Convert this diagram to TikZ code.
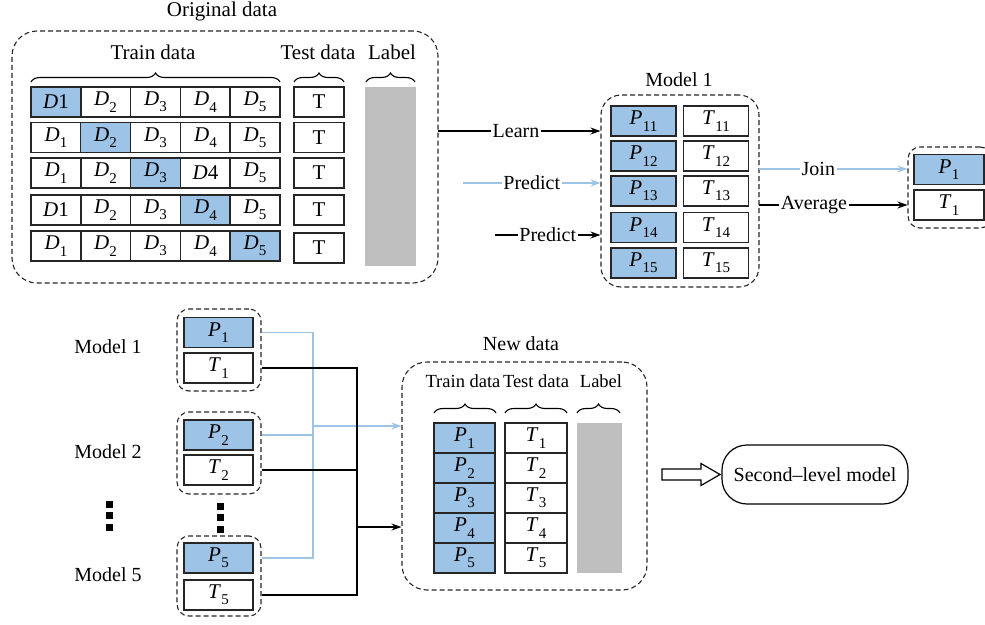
\documentclass[tikz,border=0pt]{standalone}
\usepackage{fontspec}
\setmainfont{Liberation Serif}
\usetikzlibrary{decorations.pathreplacing,arrows.meta}
\definecolor{cblue}{HTML}{9DC3E6}
\definecolor{cgray}{HTML}{BFBFBF}
\newcommand\isub[2]{\textit{#1}\kern0.3pt\raisebox{-0.3em}{\fontsize{15}{15}\selectfont #2}}
\begin{document}
\begin{tikzpicture}[x=1pt,y=-1pt,
  txt/.style={font=\fontsize{20}{24}\selectfont},
  smalltxt/.style={font=\fontsize{18.5}{22}\selectfont},
  bigtxt/.style={font=\fontsize{21}{25}\selectfont},
  cell/.style={draw=black!85, line width=1.3pt, minimum width=#1, minimum height=30pt, inner sep=0pt, font=\fontsize{21}{24}\selectfont},
  cell/.default=50pt,
  hi/.style={fill=cblue},
  dbox/.style={draw=black!85, line width=1.1pt, dash pattern=on 5pt off 3pt, rounded corners=#1, inner sep=0pt},
  dbox/.default=22pt,
  brace/.style={decorate, decoration={brace, amplitude=9pt}, line width=1.1pt},
  lbl/.style={fill=white, inner sep=1.5pt, font=\fontsize{20}{24}\selectfont},
  arrk/.style={draw=black, line width=1.2pt, -{Stealth[length=10pt,width=7pt]}},
  arrb/.style={draw=cblue, line width=1.2pt, -{Stealth[length=10pt,width=7pt]}},
  linek/.style={draw=black, line width=1.2pt},
  lineb/.style={draw=cblue, line width=1.2pt},
]
\useasboundingbox (0,0) rectangle (985,624);
\begin{scope}
\clip (0,0) rectangle (985,624);

% ---------- Original data ----------
\node[dbox=25pt, minimum width=426pt, minimum height=252pt] (orig) at (225,157) {};
\node[bigtxt] (origlbl) at (222,11) {Original data};
\node[bigtxt] (trh) at (153,52) {Train data};
\node[bigtxt] (teh) at (318,52) {Test data};
\node[bigtxt] (lah) at (392,52) {Label};
\draw[brace] (31,82) -- (280,82);
\draw[brace] (294,82) -- (344,82);
\draw[brace] (366,82) -- (415,82);

% row 1
\node[cell,hi] (d11) at (56,102) {\textit{D}1};
\node[cell] (d12) at (105.5,102) {\isub{D}{2}};
\node[cell] (d13) at (155.5,102) {\isub{D}{3}};
\node[cell] (d14) at (205.5,102) {\isub{D}{4}};
\node[cell] (d15) at (255,102) {\isub{D}{5}};
% row 2
\node[cell] (d21) at (56,137.5) {\isub{D}{1}};
\node[cell,hi] (d22) at (105.5,137.5) {\isub{D}{2}};
\node[cell] (d23) at (155.5,137.5) {\isub{D}{3}};
\node[cell] (d24) at (205.5,137.5) {\isub{D}{4}};
\node[cell] (d25) at (255,137.5) {\isub{D}{5}};
% row 3
\node[cell] (d31) at (56,173) {\isub{D}{1}};
\node[cell] (d32) at (105.5,173) {\isub{D}{2}};
\node[cell,hi] (d33) at (155.5,173) {\isub{D}{3}};
\node[cell] (d34) at (205.5,173) {\textit{D}4};
\node[cell] (d35) at (255,173) {\isub{D}{5}};
% row 4
\node[cell] (d41) at (56,210) {\textit{D}1};
\node[cell] (d42) at (105.5,210) {\isub{D}{2}};
\node[cell] (d43) at (155.5,210) {\isub{D}{3}};
\node[cell,hi] (d44) at (205.5,210) {\isub{D}{4}};
\node[cell] (d45) at (255,210) {\isub{D}{5}};
% row 5
\node[cell] (d51) at (56,246) {\isub{D}{1}};
\node[cell] (d52) at (105.5,246) {\isub{D}{2}};
\node[cell] (d53) at (155.5,246) {\isub{D}{3}};
\node[cell] (d54) at (205.5,246) {\isub{D}{4}};
\node[cell,hi] (d55) at (255,246) {\isub{D}{5}};
% test column
\node[cell] (t1) at (319,102) {T};
\node[cell] (t2) at (319,137.5) {T};
\node[cell] (t3) at (319,173) {T};
\node[cell] (t4) at (319,210) {T};
\node[cell] (t5) at (319,248) {T};
% label
\fill[cgray] (365,87) rectangle (416,266);

% ---------- Model 1 ----------
\node[dbox=20pt, minimum width=158pt, minimum height=192pt] (m1) at (680,191) {};
\node[txt] (m1lbl) at (679,80) {Model 1};
\node[cell=65pt,hi] (p11) at (643.5,121) {\isub{P}{11}};
\node[cell=65pt,hi] (p12) at (643.5,156) {\isub{P}{12}};
\node[cell=65pt,hi] (p13) at (643.5,191) {\isub{P}{13}};
\node[cell=65pt,hi] (p14) at (643.5,227.5) {\isub{P}{14}};
\node[cell=65pt,hi] (p15) at (643.5,263) {\isub{P}{15}};
\node[cell=65pt] (t11) at (716,121) {\isub{T}{11}};
\node[cell=65pt] (t12) at (716,156) {\isub{T}{12}};
\node[cell=65pt] (t13) at (716,191) {\isub{T}{13}};
\node[cell=65pt] (t14) at (716,227.5) {\isub{T}{14}};
\node[cell=65pt] (t15) at (716,263) {\isub{T}{15}};

\coordinate (learnS) at (438,131);
\coordinate (predB) at (463,183);
\coordinate (predK) at (495,235);
\draw[arrk] (learnS) -- node[lbl,pos=0.48] {Learn} (m1.west |- learnS);
\draw[arrb] (predB) -- node[lbl,pos=0.5] {Predict} (m1.west |- predB);
\draw[arrk] (predK) -- node[lbl,pos=0.5] {Predict} (m1.west |- predK);

% ---------- right P1/T1 ----------
\node[dbox=12pt, minimum width=84pt, minimum height=81pt] (rb) at (950,187.5) {};
\node[cell=70pt,hi] (rp1) at (949,169.5) {\isub{P}{1}};
\node[cell=70pt] (rt1) at (949,205) {\isub{T}{1}};
\coordinate (joinS) at (759,169);
\coordinate (avgS) at (759,205);
\draw[arrb] (joinS) -- node[lbl,pos=0.4] {Join} (rb.west |- joinS);
\draw[arrk] (avgS) -- node[lbl,pos=0.37] {Average} (rb.west |- avgS);

% ---------- bottom-left models ----------
\node[txt] (ml1) at (108,347) {Model 1};
\node[txt] (ml2) at (108,452) {Model 2};
\node[txt] (ml5) at (108,575) {Model 5};
\node[dbox=12pt, minimum width=84pt, minimum height=82pt] (mb1) at (219,350) {};
\node[dbox=12pt, minimum width=84pt, minimum height=82pt] (mb2) at (219,453) {};
\node[dbox=12pt, minimum width=84pt, minimum height=80pt] (mb5) at (219,576) {};
\node[cell=69pt,hi] (bp1) at (218.5,332.5) {\isub{P}{1}};
\node[cell=69pt] (bt1) at (218.5,368) {\isub{T}{1}};
\node[cell=69pt,hi] (bp2) at (218.5,435) {\isub{P}{2}};
\node[cell=69pt] (bt2) at (218.5,470) {\isub{T}{2}};
\node[cell=69pt,hi] (bp5) at (218.5,558) {\isub{P}{5}};
\node[cell=69pt] (bt5) at (218.5,595) {\isub{T}{5}};
% vertical dots
\foreach \yy in {500.5,512,523.5} \fill (105.5,\yy) rectangle ++(7,7);
\foreach \yy in {502.5,514,525.5} \fill (216.5,\yy) rectangle ++(7,7);

% ---------- New data ----------
\node[dbox=25pt, minimum width=245pt, minimum height=228pt] (nd) at (524.5,476) {};
\node[txt] (ndlbl) at (521,344) {New data};
\node[smalltxt] (ntr) at (463,381) {Train data};
\node[smalltxt] (nte) at (536,381) {Test data};
\node[smalltxt] (nla) at (601,381) {Label};
\draw[brace] (434,413) -- (496,413);
\draw[brace] (505,413) -- (567,413);
\draw[brace] (577,413) -- (620,413);
\node[cell=61pt,hi] (np1) at (464.5,438) {\isub{P}{1}};
\node[cell=61pt,hi] (np2) at (464.5,468) {\isub{P}{2}};
\node[cell=61pt,hi] (np3) at (464.5,498) {\isub{P}{3}};
\node[cell=61pt,hi] (np4) at (464.5,528) {\isub{P}{4}};
\node[cell=61pt,hi] (np5) at (464.5,558) {\isub{P}{5}};
\node[cell=62pt] (nt1) at (536,438) {\isub{T}{1}};
\node[cell=62pt] (nt2) at (536,468) {\isub{T}{2}};
\node[cell=62pt] (nt3) at (536,498) {\isub{T}{3}};
\node[cell=62pt] (nt4) at (536,528) {\isub{T}{4}};
\node[cell=62pt] (nt5) at (536,558) {\isub{T}{5}};
\fill[cgray] (577,423) rectangle (622,573);

% connectors to New data
\coordinate (bj) at (313,426);
\coordinate (kj) at (357,527);
\draw[lineb] (mb1.east |- bp1) -| (bj);
\draw[lineb] (mb2.east |- bp2) -| (bj);
\draw[lineb] (mb5.east |- bp5) -| (bj);
\draw[arrb] (bj) -- (nd.west |- bj);
\draw[linek] (mb1.east |- bt1) -| (kj);
\draw[linek] (mb2.east |- bt2) -| (kj);
\draw[linek] (mb5.east |- bt5) -| (kj);
\draw[arrk] (kj) -- (nd.west |- kj);

% ---------- Second-level model ----------
\draw[line width=1.2pt, line join=miter] (662,469) -- (701,469) -- (701,463.5) -- (720,474.5) -- (701,485.5) -- (701,480) -- (662,480) -- cycle;
\node[draw, line width=1.2pt, rounded corners=25pt, minimum width=186pt, minimum height=59pt, txt] (slm) at (815,474.5) {Second–level model};
\end{scope}
\end{tikzpicture}
\end{document}
